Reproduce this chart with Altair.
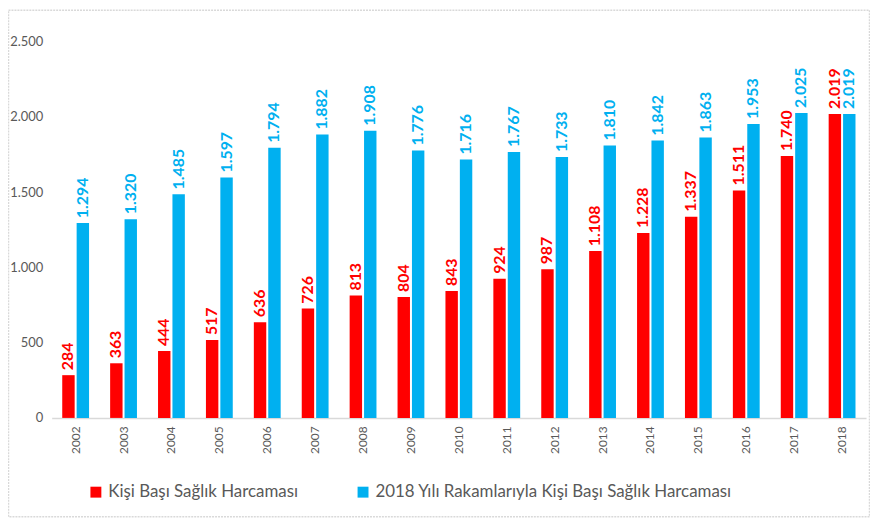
import altair as alt
import pandas as pd

years = [str(y) for y in range(2002, 2019)]
series_names = ["Kişi Başı Sağlık Harcaması", "2018 Yılı Rakamlarıyla Kişi Başı Sağlık Harcaması"]
nominal = [284, 363, 444, 517, 636, 726, 813, 804, 843, 924, 987, 1108, 1228, 1337, 1511, 1740, 2019]
real2018 = [1294, 1320, 1485, 1597, 1794, 1882, 1908, 1776, 1716, 1767, 1733, 1810, 1842, 1863, 1953, 2025, 2019]
colors = ["#FF0000", "#00B0F0"]

rows = []
for i, y in enumerate(years):
    for s, vals in zip(series_names, [nominal, real2018]):
        v = vals[i]
        rows.append({"year": y, "series": s, "value": v,
                     "label": f"{v:,}".replace(",", ".")})
df = pd.DataFrame(rows)

FONT = "Lato"
W, H = 820, 379

base = alt.Chart(df).encode(
    x=alt.X("year:N", title=None, sort=years,
            scale=alt.Scale(paddingInner=0.44, paddingOuter=0.22),
            axis=alt.Axis(labelAngle=-90, labelFontSize=12, labelColor="#595959",
                          labelFont=FONT, ticks=False, domainColor="#D9D9D9",
                          domainWidth=1.5, labelPadding=8, labelBaseline="middle")),
    xOffset=alt.XOffset("series:N", sort=series_names,
                        scale=alt.Scale(domain=series_names, paddingInner=0.138, paddingOuter=0)),
)

bars = base.mark_bar().encode(
    y=alt.Y("value:Q", title=None,
            scale=alt.Scale(domain=[0, 2500], nice=False),
            axis=alt.Axis(values=[0, 500, 1000, 1500, 2000, 2500], grid=False, domain=False,
                          ticks=False, labelFontSize=13, labelColor="#595959", labelFont=FONT,
                          labelPadding=9,
                          labelExpr="replace(format(datum.value, ','), ',', '.')")),
    color=alt.Color("series:N", sort=series_names,
                    scale=alt.Scale(domain=series_names, range=colors),
                    legend=alt.Legend(title=None, orient="none", direction="horizontal",
                                      legendX=36, legendY=445, symbolType="square",
                                      symbolSize=121, symbolStrokeWidth=0,
                                      labelFontSize=17, labelColor="#595959", labelFont=FONT,
                                      columnPadding=56, labelLimit=500)),
)

labels = base.mark_text(angle=270, align="left", baseline="middle", dx=5,
                        fontWeight="bold", fontSize=16, font=FONT).encode(
    y=alt.Y("value:Q"),
    text="label:N",
    color=alt.Color("series:N", sort=series_names,
                    scale=alt.Scale(domain=series_names, range=colors), legend=None),
)

border = alt.Chart(pd.DataFrame({"a": [0]})).mark_rect(
    fill=None, stroke="#D9D9D9", strokeWidth=1.5, strokeDash=[2, 1], clip=False
).encode(x=alt.value(-43.5), x2=alt.value(W + 3.5), y=alt.value(-31.5), y2=alt.value(H + 99.5))

chart = alt.layer(bars, labels, border).properties(
    width=W, height=H,
    autosize=alt.AutoSizeParams(type="none"),
    padding={"left": 44, "top": 32, "right": 4, "bottom": 100},
).configure(background="white").configure_view(stroke=None)

chart.save("out.html", embed_options={"renderer": "svg", "actions": False})
